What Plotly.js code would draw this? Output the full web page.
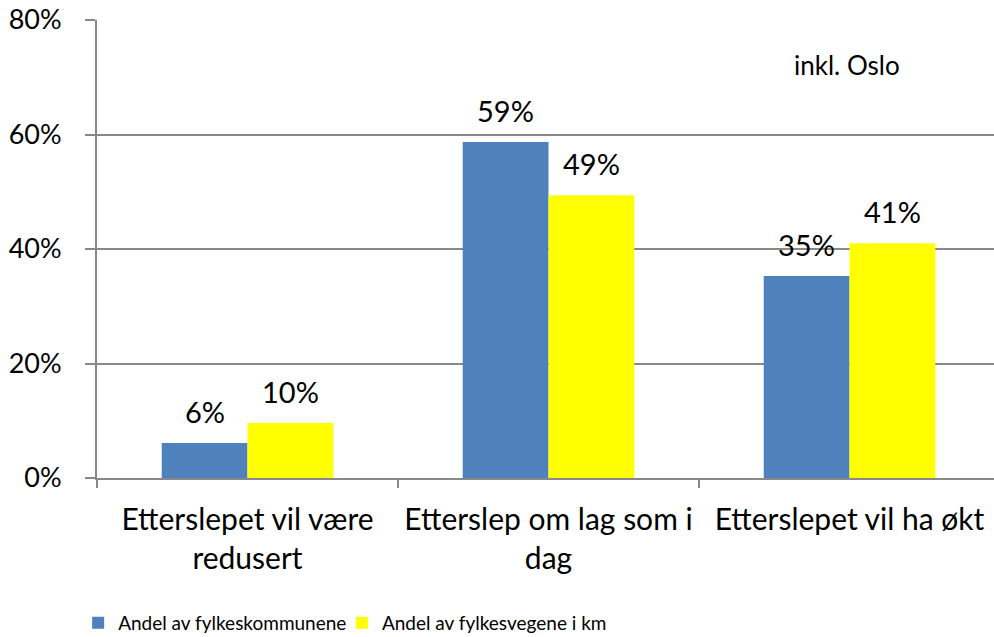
<!DOCTYPE html>
<html>
<head>
<meta charset="utf-8">
<script src="https://cdn.plot.ly/plotly-3.0.1.min.js"></script>
<style>
  body { margin: 0; background: #fff; }
  #chart { width: 994px; height: 637px; }
</style>
</head>
<body>
<div id="chart"></div>
<script>
var categories = ['Etterslepet vil være<br>redusert', 'Etterslep om lag som i<br>dag', 'Etterslepet vil ha økt'];
var kommuner = [0.061, 0.587, 0.353];
var vegerKm = [0.096, 0.494, 0.41];
var yTicks = [0, 0.2, 0.4, 0.6, 0.8];
var yTickText = ['0%', '20%', '40%', '60%', '80%'];

var gray = '#888888';
var fontFam = 'Lato, "Open Sans", sans-serif';
var bargap = 0.43;

var traceKommuner = {
    type: 'bar',
    name: 'Andel av fylkeskommunene',
    x: categories,
    y: kommuner,
    marker: { color: '#4f81bd' },
    legend: 'legend',
    hoverinfo: 'none'
};

var traceVeger = {
    type: 'bar',
    name: 'Andel av fylkesvegene i km',
    x: categories,
    y: vegerKm,
    marker: { color: '#ffff00' },
    legend: 'legend2',
    hoverinfo: 'none'
};

// value labels above each bar, offset to the bar centre within the group
var half = (1 - bargap) / 4;
var labels = [];
[kommuner, vegerKm].forEach(function (vals, s) {
    vals.forEach(function (v, i) {
        labels.push({
            x: i + (s === 0 ? -half : half),
            y: v,
            xref: 'x', yref: 'y',
            text: Math.round(v * 100) + '%',
            showarrow: false,
            xanchor: 'center', yanchor: 'bottom',
            yshift: 12,
            font: { size: 29, color: '#000' }
        });
    });
});
labels.push({
    text: 'inkl. Oslo',
    xref: 'paper', yref: 'paper',
    x: 0.836, y: 0.902,
    xanchor: 'center', yanchor: 'middle',
    showarrow: false,
    font: { size: 26, color: '#000' }
});

var legendFont = { size: 19, color: '#000' };

var layout = {
    width: 994,
    height: 637,
    margin: { l: 97, r: 0, t: 20, b: 159, autoexpand: false },
    paper_bgcolor: '#fff',
    plot_bgcolor: '#fff',
    font: { family: fontFam, size: 29, color: '#000' },
    barmode: 'group',
    bargap: bargap,
    bargroupgap: 0,
    showlegend: true,
    legend: {
        orientation: 'h',
        x: -0.021, xanchor: 'left',
        y: -0.275, yanchor: 'top',
        bgcolor: 'rgba(0,0,0,0)',
        font: legendFont
    },
    legend2: {
        orientation: 'h',
        x: 0.273, xanchor: 'left',
        y: -0.275, yanchor: 'top',
        bgcolor: 'rgba(0,0,0,0)',
        font: legendFont
    },
    xaxis: {
        type: 'category',
        range: [-0.5, 2.48],
        automargin: false,
        showline: true,
        linecolor: gray,
        linewidth: 2,
        ticks: 'outside',
        tickson: 'boundaries',
        ticklen: 8,
        tickwidth: 2,
        tickcolor: gray,
        ticklabelstandoff: 14,
        tickfont: { size: 30 },
        showgrid: false,
        fixedrange: true
    },
    yaxis: {
        range: [0, 0.8],
        tickvals: yTicks,
        ticktext: yTickText,
        automargin: false,
        showline: true,
        linecolor: gray,
        linewidth: 2,
        ticks: 'outside',
        ticklen: 10,
        tickwidth: 2,
        tickcolor: gray,
        ticklabelstandoff: 18,
        tickfont: { size: 27 },
        showgrid: true,
        gridcolor: gray,
        gridwidth: 2,
        zeroline: false,
        fixedrange: true
    },
    annotations: labels
};

Plotly.newPlot('chart', [traceKommuner, traceVeger], layout, { displayModeBar: false, staticPlot: true });
</script>
</body>
</html>
